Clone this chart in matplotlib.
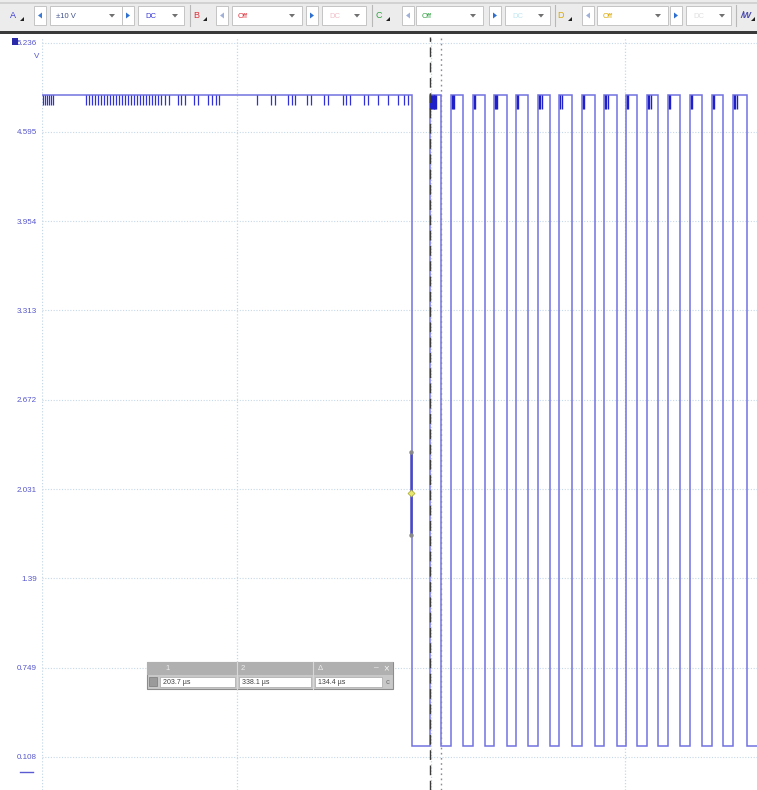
import numpy as np
import matplotlib
matplotlib.use("Agg")
import matplotlib.pyplot as plt
from matplotlib.patches import Rectangle, Polygon
import matplotlib.transforms as mtransforms

# ---------------- data ----------------
y_ticks = [0.108, 0.749, 1.39, 2.031, 2.672, 3.313, 3.954, 4.595, 5.236]
y_tick_labels = ["0.108", "0.749", "1.39", "2.031", "2.672", "3.313", "3.954", "4.595", "5.236"]
y_range = (-0.129, 5.276)
t_range = (-4526, 4197)          # time, µs
v_grid_times = [-4526, -2147, 220, 2586]

high_v = 4.86
low_v = 0.187
fall_times = [-10, 340, 610, 878, 1147, 1403, 1671, 1940, 2220, 2489, 2733, 2989,
              3257, 3526, 3782, 4075]
rise_times = [204, 464, 732, 988, 1257, 1525, 1781, 2062, 2330, 2599, 2855, 3111,
              3379, 3648, 3904]

glitch_depth = 0.075
left_glitches = [-4514, -4490, -4466, -4441, -4416, -4392,
                 -3989, -3953, -3916, -3880, -3843, -3806, -3770, -3733, -3697, -3660,
                 -3623, -3587, -3550, -3514, -3477, -3440, -3404, -3367, -3331,
                 -3294, -3257, -3221, -3184, -3148, -3111, -3074,
                 -3026, -2977, -2867, -2830, -2782, -2672, -2623,
                 -2501, -2452, -2403, -2367, -1903, -1732, -1684,
                 -1525, -1476, -1440, -1293, -1244, -1086, -1037,
                 -854, -817, -769, -598, -549, -427, -305, -183, -110, -61]
pulse_glitch_depth = 0.1
pulse_glitches = [212, 222, 232, 242, 252, 262, 272, 282,
                  476, 490, 504, 745, 760, 1000, 1014, 1030, 1270, 1286,
                  1537, 1552, 1568, 1795, 1812, 2075, 2092, 2343, 2358, 2374,
                  2612, 2628, 2868, 2884, 2900, 3124, 3140, 3392, 3408,
                  3660, 3676, 3918, 3934, 3950]

trigger_time = -24
trigger_level = 2.0
trigger_span = 0.3

cursor1, cursor2 = 203.7, 338.1
cursor_labels = ["1", "2", "Δ"]
cursor_values = ["203.7 µs", "338.1 µs", "134.4 µs"]

toolbar_channels = ["A", "B", "C", "D"]
toolbar_ranges = ["±10 V", "Off", "Off", "Off"]
toolbar_coupling = ["DC", "DC", "DC", "DC"]
channel_colors = ["#3b3bd6", "#e0303a", "#30a040", "#d8a800"]
range_colors = ["#40508a", "#e0303a", "#30a040", "#d8a800"]
coupling_colors = ["#3b3bd6", "#f0c0c8", "#c0e8f0", "#e0e0e0"]

# ---------------- figure ----------------
W, H = 757, 790
fig = plt.figure(figsize=(W / 100, H / 100), dpi=100)
fig.patch.set_facecolor("white")

ax = fig.add_axes([42 / W, 0, 715 / W, (H - 37) / H])
ax.set_xlim(*t_range)
ax.set_ylim(*y_range)
for s in ax.spines.values():
    s.set_visible(False)
ax.set_xticks([])
ax.set_yticks(y_ticks)
ax.set_yticklabels(y_tick_labels, fontsize=5.8, color="#5656cc",
                   family=["Liberation Sans", "DejaVu Sans"])
ax.tick_params(axis="y", length=0, pad=3.5)

grid_col = "#c6d8e8"
for yv in y_ticks:
    ax.axhline(yv, color=grid_col, lw=0.8, ls=(0, (1, 1.5)), zorder=1)
for xv in v_grid_times:
    ax.axvline(xv, color=grid_col, lw=0.9, ls=(0, (1, 1.5)), zorder=1)

# waveform
tt = [t_range[0]]
vv = [high_v]
for i, f in enumerate(fall_times):
    tt += [f, f]
    vv += [high_v, low_v]
    if i < len(rise_times):
        r = rise_times[i]
        tt += [r, r]
        vv += [low_v, high_v]
tt.append(t_range[1])
vv.append(low_v)
ax.plot(tt, vv, color="#7272e0", lw=1.1, zorder=3, solid_joinstyle="miter")

ax.vlines(left_glitches, high_v - glitch_depth, high_v, color="#3030d8", lw=0.9, zorder=4)
ax.vlines(pulse_glitches, high_v - pulse_glitch_depth, high_v, color="#2020c8", lw=1.0, zorder=4)

# cursors
ax.axvline(cursor1, color="#3c3c3c", lw=1.0, ls=(0, (7, 4)), zorder=5)
ax.axvline(cursor2, color="#8a8a9a", lw=1.0, ls=(0, (1.2, 2.5)), zorder=5)

# trigger marker
ax.plot([trigger_time, trigger_time],
        [trigger_level - trigger_span, trigger_level + trigger_span],
        color="#4848c4", lw=1.8, zorder=6, solid_capstyle="butt")
ax.plot([trigger_time, trigger_time],
        [trigger_level - trigger_span, trigger_level + trigger_span],
        ls="none", marker="o", ms=2.2, color="#8a8a8a", zorder=7)
ax.plot([trigger_time], [trigger_level], ls="none", marker="D", ms=3.5,
        mfc="#e8e870", mec="#b0b040", mew=0.6, zorder=8)

# zero marker left of axis
trans = mtransforms.blended_transform_factory(ax.transAxes, ax.transData)
ax.plot([-0.031, -0.013], [0, 0], transform=trans, color="#5a5ad2", lw=1.0, clip_on=False)

# ---------------- overlay UI (pixel coords) ----------------
ui = fig.add_axes([0, 0, 1, 1], zorder=10)
ui.set_xlim(0, W)
ui.set_ylim(H, 0)
ui.axis("off")
ui.patch.set_alpha(0)

# toolbar
ui.add_patch(Rectangle((0, 0), W, 31, color="#ececec", lw=0))
ui.add_patch(Rectangle((0, 2), W, 2, color="#d2d2d2", lw=0))
ui.add_patch(Rectangle((0, 30.5), W, 3, color="#3a3a3a", lw=0))

fnt = ["Liberation Sans", "DejaVu Sans"]
def box(x0, x1, y0=6, y1=25, fc="white", ec="#c4c4c4"):
    ui.add_patch(Rectangle((x0, y0), x1 - x0, y1 - y0, fc=fc, ec=ec, lw=0.7))

def arrow(xc, direction, col):
    yc = 15.5
    if direction == "l":
        pts = [(xc + 2, yc - 3), (xc + 2, yc + 3), (xc - 2, yc)]
    else:
        pts = [(xc - 2, yc - 3), (xc - 2, yc + 3), (xc + 2, yc)]
    ui.add_patch(Polygon(pts, closed=True, fc=col, ec="none"))

def drop(xc):
    ui.add_patch(Polygon([(xc - 3, 14), (xc + 3, 14), (xc, 17.5)], closed=True,
                         fc="#707070", ec="none"))

def corner(xc):
    ui.add_patch(Polygon([(xc, 21), (xc + 4, 21), (xc + 4, 17)], closed=True,
                         fc="#202020", ec="none"))

groups = [
    (13, 40, (50, 122), 128, (138, 184), 190),
    (196, 222, (232, 302), 312, (322, 366), 372),
    (379, 408, (416, 483), 495, (505, 550), 555),
    (561, 588, (597, 668), 676, (686, 731), 736),
]
left_arrow_cols = ["#3b7bd6", "#a0b0d8", "#a0b0d8", "#a0b0d8"]
for i, (lx, la, rb, ra, cb, sep) in enumerate(groups):
    ui.text(lx, 16, toolbar_channels[i], fontsize=6.5, color=channel_colors[i],
            family=fnt, ha="center", va="center")
    corner(lx + 7)
    box(la - 6, la + 6)
    arrow(la, "l", left_arrow_cols[i])
    box(*rb)
    ui.text(rb[0] + 6, 16, toolbar_ranges[i], fontsize=5.5, color=range_colors[i],
            family=fnt, ha="left", va="center")
    drop(rb[1] - 10)
    box(ra - 6, ra + 6)
    arrow(ra, "r", "#2f6fd0")
    box(*cb)
    ui.text(cb[0] + 7, 16, toolbar_coupling[i], fontsize=5.5, color=coupling_colors[i],
            family=fnt, ha="left", va="center")
    drop(cb[1] - 9)
    ui.plot([sep, sep], [5, 26], color="#b8b8b8", lw=0.8)

ui.text(746, 16, "/W", fontsize=6.5, color="#4a4ab0", family=fnt, style="italic",
        ha="center", va="center", weight="bold")
corner(751)

# top-left marker, unit label
ui.add_patch(Rectangle((12, 38), 6, 7, color="#2a2aa8", lw=0))
ui.text(37, 57, "V", fontsize=5.8, color="#5656cc", family=fnt, ha="center", va="center")

# measurement box
bx0, bx1, by0, by1 = 147, 393, 662, 689
ui.add_patch(Rectangle((bx0, by0), bx1 - bx0, by1 - by0, fc="#c8c8c8", ec="#8c8c8c", lw=0.8))
ui.add_patch(Rectangle((bx0, by0), bx1 - bx0, 13, fc="#b0b0b0", ec="none"))
for xs in [237, 313]:
    ui.plot([xs, xs], [by0, by1], color="#d8d8d8", lw=0.8)
for lab, xp in zip(cursor_labels, [165, 241, 318]):
    ui.text(xp, by0 + 6.5, lab, fontsize=5.5, color="#eeeeee", family=fnt,
            ha="left", va="center")
ui.text(376, by0 + 5.5, "–", fontsize=6, color="#f4f4f4", family=fnt, ha="center", va="center")
ui.text(386, by0 + 6.5, "×", fontsize=7, color="#f4f4f4", family=fnt, ha="center", va="center")
ui.add_patch(Rectangle((149, 677), 8, 9, fc="#9a9a9a", ec="#7a7a7a", lw=0.5))
cells = [(160, 235), (239, 311), (315, 382)]
for (c0, c1), val in zip(cells, cursor_values):
    ui.add_patch(Rectangle((c0, 677), c1 - c0, 10, fc="white", ec="#a8a8a8", lw=0.5))
    ui.text(c0 + 3, 682, val, fontsize=5, color="#404040", family=fnt,
            ha="left", va="center")
ui.text(388, 682, "c", fontsize=5.5, color="#707070", family=fnt, ha="center", va="center")

fig.savefig("out.png", dpi=100)
